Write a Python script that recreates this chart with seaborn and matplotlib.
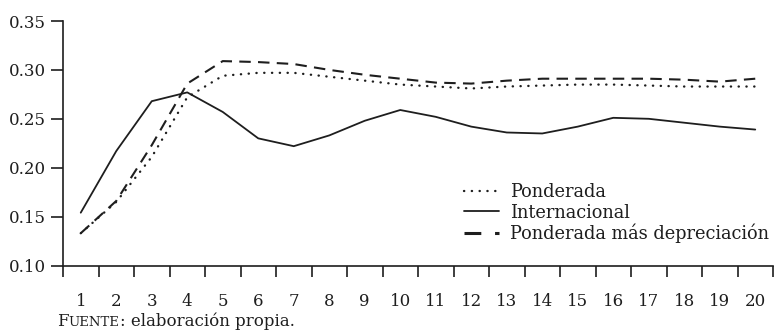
import numpy as np
import pandas as pd
import seaborn as sns
import matplotlib
matplotlib.use("Agg")
import matplotlib.pyplot as plt
from matplotlib.lines import Line2D

periodos = list(range(1, 21))
ponderada = [0.133, 0.165, 0.211, 0.272, 0.294, 0.297, 0.297, 0.293, 0.289, 0.285,
             0.283, 0.281, 0.283, 0.284, 0.285, 0.285, 0.284, 0.283, 0.283, 0.283]
internacional = [0.154, 0.217, 0.268, 0.277, 0.257, 0.230, 0.222, 0.233, 0.248, 0.259,
                 0.252, 0.242, 0.236, 0.235, 0.242, 0.251, 0.250, 0.246, 0.242, 0.239]
depreciacion = [0.133, 0.166, 0.223, 0.286, 0.309, 0.308, 0.306, 0.300, 0.295, 0.291,
                0.287, 0.286, 0.289, 0.291, 0.291, 0.291, 0.291, 0.290, 0.288, 0.291]
series = ["Ponderada", "Internacional", "Ponderada más depreciación"]
y_ticks = [0.10, 0.15, 0.20, 0.25, 0.30, 0.35]

df = pd.DataFrame({
    "periodo": periodos * 3,
    "valor": ponderada + internacional + depreciacion,
    "serie": [series[0]] * 20 + [series[1]] * 20 + [series[2]] * 20,
})

sns.set_theme(style="ticks")
plt.rcParams["font.family"] = ["DejaVu Serif"]

ink = "#1e1e1e"
fig = plt.figure(figsize=(7.75, 3.31), dpi=100)
ax = fig.add_axes([63 / 775, 1 - 265.5 / 331, 710 / 775, (265.5 - 21) / 331])

estilos = {
    series[0]: dict(linestyle=(0, (0.1, 3.2)), dash_capstyle="round", linewidth=1.7),
    series[1]: dict(linestyle="-", linewidth=1.3),
    series[2]: dict(linestyle=(0, (5.5, 3.5)), linewidth=1.5),
}
for s in series:
    sns.lineplot(data=df[df["serie"] == s], x="periodo", y="valor", ax=ax,
                 color=ink, legend=False, **estilos[s])

ax.set_xlim(0.5, 20.5)
ax.set_ylim(0.10, 0.35)
ax.set_yticks(y_ticks)
ax.set_yticklabels([f"{v:.2f}" for v in y_ticks])
ax.set_xticks(periodos)
ax.set_xticklabels([str(p) for p in periodos])
ax.set_xticks(np.arange(0.5, 21.0, 1.0), minor=True)
ax.tick_params(axis="x", which="major", length=0, pad=20, labelsize=12, colors=ink)
ax.tick_params(axis="x", which="minor", length=8, width=1.2, direction="out", colors=ink)
ax.tick_params(axis="y", which="major", length=9, width=1.2, direction="out",
               labelsize=12, colors=ink, pad=3)
ax.set_xlabel("")
ax.set_ylabel("")
for side in ["top", "right"]:
    ax.spines[side].set_visible(False)
for side in ["left", "bottom"]:
    ax.spines[side].set_color(ink)
    ax.spines[side].set_linewidth(1.2)
ax.grid(False)

handles = [Line2D([], [], color=ink, **estilos[s]) for s in series]
handles[2] = Line2D([], [], color=ink, linestyle=(0, (5.5, 4.5)), linewidth=2.2)
ax.legend(handles, series, loc="lower right", bbox_to_anchor=(1.004, 0.062),
          frameon=False, fontsize=12.8, handlelength=2.0, handletextpad=0.6,
          labelspacing=0.12, labelcolor=ink, borderaxespad=0)

# footer in small caps for the first word
fig.canvas.draw()
r = fig.canvas.get_renderer()
yb = 1 - 326 / 331
t1 = fig.text(57 / 775, yb, "F", fontsize=12, color=ink, va="baseline")
x = t1.get_window_extent(r).x1 / fig.bbox.width
t2 = fig.text(x, yb, "UENTE", fontsize=9.5, color=ink, va="baseline")
x = t2.get_window_extent(r).x1 / fig.bbox.width
fig.text(x, yb, ": elaboración propia.", fontsize=12, color=ink, va="baseline")

fig.savefig("out.png", dpi=100)
